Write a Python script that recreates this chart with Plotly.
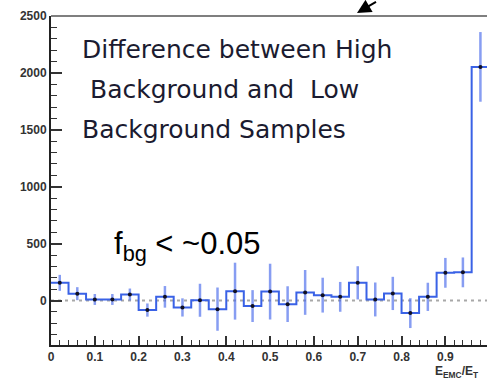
import plotly.graph_objects as go

# Data
bin_width = 0.04
bin_centers = [0.02, 0.06, 0.10, 0.14, 0.18, 0.22, 0.26, 0.30, 0.34, 0.38, 0.42, 0.46, 0.50,
               0.54, 0.58, 0.62, 0.66, 0.70, 0.74, 0.78, 0.82, 0.86, 0.90, 0.94, 0.98]
values = [156, 61, 10, 10, 54, -83, 33, -60, 3, -75, 83, -48, 79,
          -31, 72, 48, 33, 156, 10, 63, -110, 33, 244, 248, 2053]
errors = [70, 57, 48, 48, 52, 58, 95, 80, 145, 190, 250, 140, 245,
          157, 197, 153, 131, 146, 149, 146, 131, 124, 131, 131, 306]
y_ticks = [0, 500, 1000, 1500, 2000, 2500]
x_ticks = [0, 0.1, 0.2, 0.3, 0.4, 0.5, 0.6, 0.7, 0.8, 0.9]
x_tick_labels = ["0", "0.1", "0.2", "0.3", "0.4", "0.5", "0.6", "0.7", "0.8", "0.9"]

edges_left = [c - bin_width / 2 for c in bin_centers]
step_x = edges_left + [bin_centers[-1] + bin_width / 2]
step_y = values + [values[-1]]

fig = go.Figure()

# zero reference line
fig.add_trace(go.Scatter(x=[0, 1.0], y=[0, 0], mode="lines",
                         line=dict(color="#a8a8a8", width=2, dash="3px,4px"),
                         hoverinfo="skip", showlegend=False))

# histogram step line
fig.add_trace(go.Scatter(x=step_x, y=step_y, mode="lines", line_shape="hv",
                         line=dict(color="#3a62e6", width=2),
                         showlegend=False))

# points with error bars
fig.add_trace(go.Scatter(x=bin_centers, y=values, mode="markers",
                         marker=dict(color="#111122", size=4),
                         error_y=dict(type="data", array=errors, visible=True,
                                      color="rgba(70,105,235,0.65)", thickness=2.5, width=0),
                         showlegend=False))

tickfont = dict(family="Liberation Sans", size=12, color="#333333", weight="bold")

fig.update_layout(
    width=487, height=381,
    margin=dict(l=51, r=0, t=16, b=36),
    paper_bgcolor="white", plot_bgcolor="white",
    xaxis=dict(range=[0, 0.995], tickvals=x_ticks, ticktext=x_tick_labels,
               ticks="inside", ticklen=9, tickwidth=1.5, tickcolor="#333333",
               minor=dict(dtick=0.02, tick0=0, ticks="inside", ticklen=5, tickwidth=1.2, tickcolor="#333333"),
               showline=True, linecolor="#222222", linewidth=2,
               showgrid=False, zeroline=False, tickfont=tickfont),
    yaxis=dict(range=[-390, 2500], tickvals=y_ticks,
               ticks="inside", ticklen=11, tickwidth=1.5, tickcolor="#333333",
               minor=dict(dtick=100, tick0=0, ticks="inside", ticklen=6, tickwidth=1.2, tickcolor="#333333"),
               showline=True, linecolor="#222222", linewidth=2,
               showgrid=False, zeroline=False, tickfont=tickfont),
)

# top frame line
fig.add_shape(type="line", xref="paper", yref="paper", x0=0, x1=1, y0=1, y1=1,
              line=dict(color="#555555", width=1.5))

text_font = dict(family="DejaVu Sans", size=25, color="#1b1b30")
H = 329.0
def py(pix):
    return (345 - pix) / H
def px(pix):
    return (pix - 51) / 436.0

lines = [("Difference between High", 80, 50), ("Background and&nbsp; Low", 88, 89), ("Background Samples", 80, 129)]
for t, x0, y0 in lines:
    fig.add_annotation(text=t, xref="paper", yref="paper", x=px(x0), y=py(y0),
                       xanchor="left", yanchor="middle", showarrow=False, font=text_font)

fig.add_annotation(text="f<sub>bg</sub> &lt; ~0.05", xref="paper", yref="paper", x=px(112), y=py(246),
                   xanchor="left", yanchor="middle", showarrow=False,
                   font=dict(family="Liberation Sans", size=31, color="black"))

fig.add_annotation(text="E<sub>EMC</sub>/E<sub>T</sub>", xref="paper", yref="paper", x=px(433), y=py(372),
                   xanchor="left", yanchor="middle", showarrow=False,
                   font=dict(family="Liberation Sans", size=12, color="#333333", weight="bold"))

# arrow at top
fig.add_annotation(text=" ", xref="paper", yref="paper", x=px(357), y=py(13),
                   ax=22, ay=-22, showarrow=True, arrowhead=2, arrowsize=1.4,
                   arrowwidth=2, arrowcolor="black")

fig.write_html("out.html")
